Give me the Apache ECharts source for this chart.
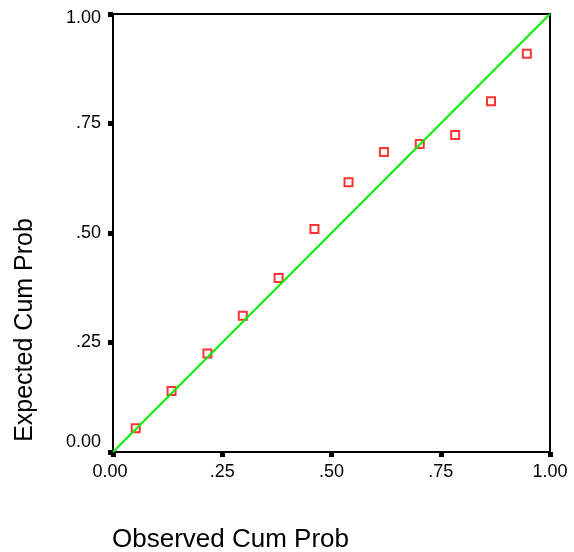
<!DOCTYPE html>
<html>
<head>
<meta charset="utf-8">
<script src="https://cdn.jsdelivr.net/npm/echarts@6/dist/echarts.min.js"></script>
<style>
html,body{margin:0;padding:0;background:#fff;}
#c{width:574px;height:552px;}
</style>
</head>
<body>
<div id="c"></div>
<script>
var observed = [0.052, 0.134, 0.216, 0.297, 0.379, 0.461, 0.539, 0.620, 0.702, 0.783, 0.865, 0.947];
var expected = [0.054, 0.139, 0.225, 0.311, 0.397, 0.509, 0.616, 0.685, 0.703, 0.724, 0.801, 0.909];
var refLine = [[0, 0], [1, 1]];
var tickValues = [0, 0.25, 0.5, 0.75, 1];
var tickLabels = ['0.00', '.25', '.50', '.75', '1.00'];
var xTitle = 'Observed Cum Prob';
var yTitle = 'Expected Cum Prob';

function fmt(v) {
  var i = tickValues.indexOf(Math.round(v * 100) / 100);
  return i >= 0 ? tickLabels[i] : '';
}
var font = '"Liberation Sans", Arial, Helvetica, sans-serif';
var chart = echarts.init(document.getElementById('c'));
chart.setOption({
  animation: false,
  backgroundColor: '#fff',
  grid: {left: 113, right: 24, top: 14, bottom: 100, show: true, borderColor: '#000', borderWidth: 2, backgroundColor: 'transparent'},
  xAxis: {
    type: 'value', min: 0, max: 1, interval: 0.25,
    splitLine: {show: false},
    axisLine: {show: true, lineStyle: {color: '#000', width: 2}},
    axisTick: {show: true, length: 5, lineStyle: {color: '#000', width: 5}},
    axisLabel: {
      color: '#000', fontSize: 18, fontFamily: font, margin: 11,
      formatter: function (v) {
        var s = fmt(v);
        return v === 0 ? '{lo|' + s + '}' : s;
      },
      rich: {lo: {fontSize: 18, fontFamily: font, color: '#000', padding: [0, 6, 0, 0]}}
    }
  },
  yAxis: {
    type: 'value', min: 0, max: 1, interval: 0.25,
    splitLine: {show: false},
    axisLine: {show: true, lineStyle: {color: '#000', width: 2}},
    axisTick: {show: true, length: 5, lineStyle: {color: '#000', width: 5}},
    axisLabel: {
      color: '#000', fontSize: 18, fontFamily: font, margin: 12,
      formatter: function (v) {
        var s = fmt(v);
        if (v === 0) return '{lo|' + s + '}';
        if (v === 1) return '{hi|' + s + '}';
        return s;
      },
      rich: {
        lo: {fontSize: 18, fontFamily: font, color: '#000', padding: [0, 0, 20, 0]},
        hi: {fontSize: 18, fontFamily: font, color: '#000', padding: [8, 0, 0, 0]}
      }
    }
  },
  graphic: [
    {type: 'text', x: 112, y: 540, style: {text: xTitle, fontSize: 26, fontFamily: font, fill: '#000', align: 'left', verticalAlign: 'middle'}},
    {type: 'text', x: 25, y: 330, rotation: Math.PI / 2, style: {text: yTitle, fontSize: 25, fontFamily: font, fill: '#000', align: 'center', verticalAlign: 'middle'}}
  ],
  series: [
    {
      type: 'line', data: refLine, symbol: 'none', silent: true,
      lineStyle: {color: '#00ee00', width: 2}
    },
    {
      type: 'scatter',
      data: observed.map(function (x, i) { return [x, expected[i]]; }),
      symbol: 'rect', symbolSize: 8,
      itemStyle: {color: '#fff', borderColor: '#ff0000', borderWidth: 2}
    }
  ]
});
</script>
</body>
</html>
